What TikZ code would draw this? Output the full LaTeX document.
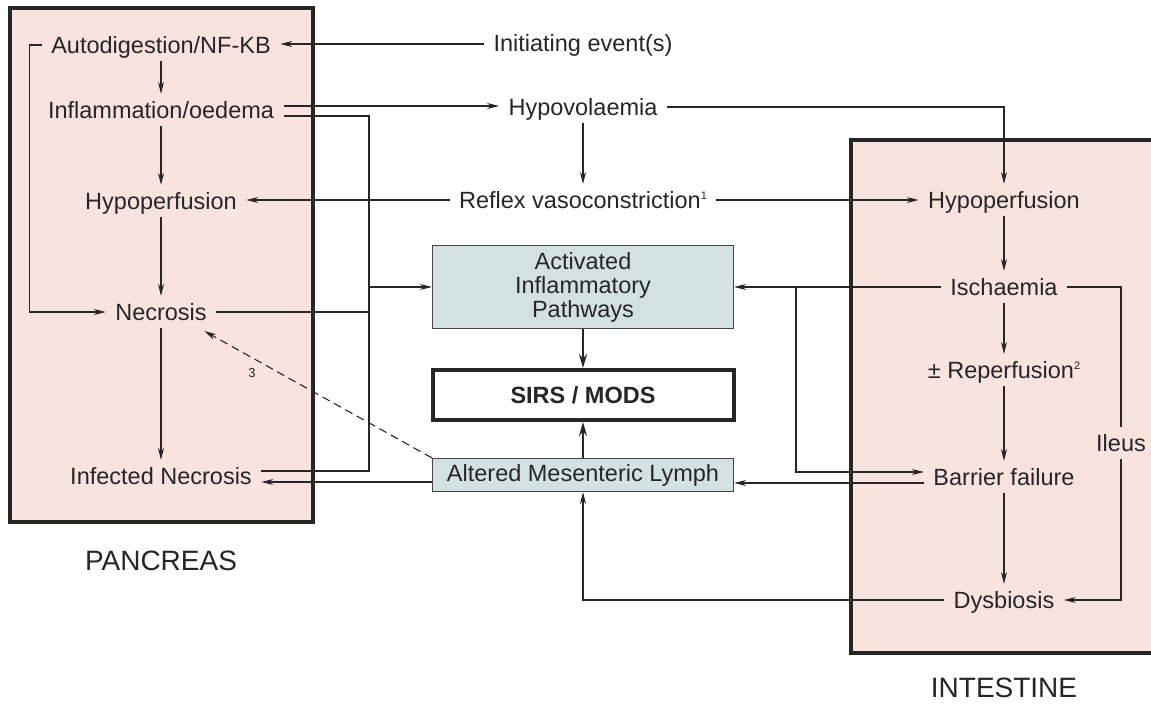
\documentclass[tikz,border=0pt]{standalone}
\usepackage{fontspec}
\setmainfont{Liberation Sans}
\usepackage{tikz}
\usetikzlibrary{arrows.meta,positioning}
\definecolor{pancpink}{HTML}{F9E3DE}
\definecolor{lymphteal}{HTML}{D3E2E1}
\definecolor{boxgrey}{HTML}{444444}
\newcommand{\supnum}[1]{\raisebox{9pt}{\fontsize{11}{11}\selectfont #1}}
\tikzset{
        txt/.style = {inner xsep=9pt, inner ysep=6.5pt,
            text height=17pt, text depth=1pt,
            font=\fontsize{23.5}{27}\selectfont},
        block/.style = {draw=boxgrey, fill=lymphteal, line width=1.3pt,
            minimum width=301pt, align=center,
            font=\fontsize{23.5}{24}\selectfont},
        sirs/.style = {draw=black!85, fill=white, line width=4pt,
            minimum width=301pt, minimum height=50pt,
            font=\bfseries\fontsize{23.5}{27}\selectfont},
        region/.style = {draw=black!85, fill=pancpink, line width=3.5pt},
        organ/.style = {font=\fontsize{28}{31}\selectfont},
        boldarrow/.style = {line width=2.2pt, -{Stealth[length=14pt,width=8pt]}},
    }

\begin{document}
\begin{tikzpicture}[->, >={Stealth[length=12pt,width=6pt]}, auto, x=1pt, y=-1pt, line width=1.1pt, color=black!85]
		\useasboundingbox (0,0) rectangle (1151,709);
		\clip (0,0) rectangle (1151,709);
		% organ boxes, the intestine one runs off the right edge
		\draw[region, -] (10,8) rectangle (313,522);
		\draw[region, -] (851,140) rectangle (1170,653);
		% pancreas
		\node[txt]    (AutoDig) at (161,45)    {Autodigestion/NF-KB};
		\node[txt]    (InflOedema)[node distance=65pt, below of=AutoDig]     {Inflammation/oedema};
		\node[txt]    (HypoPanc)[node distance=91pt, below of=InflOedema]     {Hypoperfusion};
		\node[txt]    (NecPanc)[node distance=111pt, below of=HypoPanc]     {Necrosis};
		\node[txt]    (InfNec)[node distance=164pt, below of=NecPanc]     {Infected Necrosis};
		\node[organ]  (Pancreas)[node distance=85pt, below of=InfNec]     {PANCREAS};
		% middle
		\node[txt]    (Initiating) at (583,44)    {Initiating event(s)};
		\node[txt]    (Hypovol)[node distance=63pt, below of=Initiating]     {Hypovolaemia};
		\node[txt]    (Reflex)[node distance=93pt, below of=Hypovol]     {Reflex vasoconstriction\supnum{1}};
		\node[block, minimum height=83pt]    (Activated)[node distance=87pt, below of=Reflex]     {Activated\\Inflammatory\\Pathways};
		\node[sirs]   (Sirs)[node distance=108pt, below of=Activated]     {SIRS / MODS};
		\node[block, minimum height=33pt]    (Lymph)[node distance=80pt, below of=Sirs]     {Altered Mesenteric Lymph};
		% intestine
		\node[txt]    (HypoInt) at (1004,200)    {Hypoperfusion};
		\node[txt]    (Ischaemia)[node distance=87pt, below of=HypoInt]     {Ischaemia};
		\node[txt]    (Reperf)[node distance=83pt, below of=Ischaemia]     {\textpm{} Reperfusion\supnum{2}};
		\node[txt]    (Barrier)[node distance=107pt, below of=Reperf]     {Barrier failure};
		\node[txt]    (Dysbiosis)[node distance=123pt, below of=Barrier]     {Dysbiosis};
		\node[organ]  (Intestine)[node distance=88pt, below of=Dysbiosis]     {INTESTINE};
		\node[txt]    (Ileus) at (1121,443)    {Ileus};
		\coordinate (BusL) at (369,471);
		\coordinate (BusR) at (796,287);
		\path
		(AutoDig) edge          (InflOedema)
		(InflOedema) edge          (HypoPanc)
		(HypoPanc) edge          (NecPanc)
		(NecPanc) edge          (InfNec)
		(HypoInt) edge          (Ischaemia)
		(Ischaemia) edge          (Reperf)
		(Reperf) edge          (Barrier)
		(Barrier) edge          (Dysbiosis);
		\draw (AutoDig.west) -- ++(-12,0) |- (NecPanc.west);
		\draw (Initiating.west) -- (Initiating.west -| AutoDig.east);
		\draw ([yshift=4pt]InflOedema.east) -- ([yshift=4pt]InflOedema.east -| Hypovol.west);
		\draw[-] ([yshift=-6pt]InflOedema.east) -| (BusL) -- (BusL -| InfNec.east);
		\draw[-] (NecPanc.east) -- (NecPanc.east -| BusL);
		\draw (BusL |- Activated.west) -- (Activated.west);
		\draw ([yshift=-6pt]InfNec.east -| Lymph.west) -- ([yshift=-6pt]InfNec.east);
		\draw (Hypovol.south) -- (Hypovol.south |- Reflex.north);
		\draw (Hypovol.east) -| (HypoInt.north);
		\draw (Reflex.west) -- (Reflex.west -| HypoPanc.east);
		\draw (Reflex.east) -- (HypoInt.west);
		\draw[boldarrow] (Activated) -- (Sirs);
		\draw[boldarrow] (Lymph) -- (Sirs);
		\draw[dash pattern=on 8pt off 5pt] (Lymph.north west) -- node[pos=0.79, below=7pt, font=\fontsize{13}{15}\selectfont] (Three) {3} ([xshift=-12pt,yshift=-3pt]NecPanc.south east);
		\draw (Ischaemia.west) -- (Activated.east);
		\draw (BusR) |- ([yshift=5pt]Barrier.west);
		\draw ([yshift=-6pt]Barrier.west) -- ([yshift=-6pt]Barrier.west -| Lymph.east);
		\draw[-] (Ischaemia.east) -| (Ileus.north);
		\draw (Ileus.south) |- (Dysbiosis.east);
		\draw (Dysbiosis.west) -| (Lymph.south);
		\end{tikzpicture}
\end{document}
